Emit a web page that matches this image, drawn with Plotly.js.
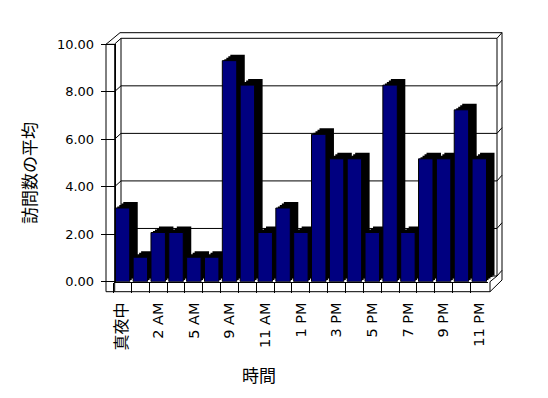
<!DOCTYPE html>
<html><head><meta charset="utf-8">
<script src="https://cdn.plot.ly/plotly-3.0.1.min.js"></script>
<style>html,body{margin:0;padding:0;background:#fff}</style>
</head><body><div id="chart" style="width:548px;height:398px"></div>
<script>
const categories = ['真夜中','1 AM','2 AM','4 AM','5 AM','8 AM','9 AM','10 AM','11 AM','正午','1 PM','2 PM','3 PM','4 PM','5 PM','6 PM','7 PM','8 PM','9 PM','10 PM','11 PM'];
const visits = [3.1,1.03,2.07,2.07,1.03,1.03,9.3,8.27,2.07,3.1,2.07,6.2,5.17,5.17,2.07,8.27,2.07,5.17,5.17,7.23,5.17];
const yTicks = [0,2,4,6,8,10];
const xTitle = '時間';
const yTitle = '訪問数の平均';

const W = 548, H = 398;
const px = x => x / W, py = y => 1 - y / H;
// front plane geometry (pixels)
const FX0 = 113.6, FX1 = 488.2, FY0 = 281.7, FY1 = 44.0;
const layers = [[8,6],[6,4.5],[4,3],[2,1.5],[0,0]];
const ids = ['', '2', '3', '4', '5'];
const FONT = 'DejaVu Sans, Noto Sans CJK JP, sans-serif';

const traces = [];
const layout = {
  width: W, height: H, margin: {l:0, r:0, t:0, b:0},
  paper_bgcolor: '#fff', plot_bgcolor: 'rgba(0,0,0,0)',
  showlegend: false, bargap: 0.19,
  font: {family: FONT, size: 13, color: '#000'},
  shapes: [], annotations: []
};

layers.forEach(([dx, dy], k) => {
  const id = ids[k];
  const front = (k === layers.length - 1);
  traces.push({
    type: 'bar', x: categories, y: visits,
    xaxis: 'x' + id, yaxis: 'y' + id,
    marker: {color: front ? '#000080' : '#000', line: {color: '#000', width: front ? 1 : 0}},
    hoverinfo: 'skip'
  });
  const xa = {
    type: 'category', range: [-0.5, categories.length - 0.5],
    domain: [px(FX0 + dx), px(FX1 + dx)], anchor: 'y' + id, fixedrange: true
  };
  const ya = {
    range: [0, 10], domain: [py(FY0 - dy), py(FY1 - dy)], anchor: 'x' + id, fixedrange: true
  };
  if (!front) {
    xa.visible = false; ya.visible = false;
  } else {
    Object.assign(xa, {
      showline: true, linecolor: '#000', linewidth: 1,
      ticks: 'outside', ticklen: 10, tickcolor: '#000', tickwidth: 1,
      tickson: 'boundaries', tickangle: -90, showgrid: false, zeroline: false,
      tickmode: 'array', tickvals: categories,
      ticktext: categories.map((c, i) => i % 2 ? '' :
        (/[^\x00-\x7f]/.test(c) ? '<span style="font-size:16px;font-family:Noto Sans CJK JP">' + c + '</span>' : c)),
      tickfont: {family: FONT, size: 14.5, color: '#000'}, ticklabelstandoff: 14
    });
    Object.assign(ya, {
      anchor: 'free', position: px(114.7),
      showline: true, linecolor: '#000', linewidth: 1,
      ticks: 'outside', ticklen: 14, tickcolor: '#000', tickwidth: 1,
      tickmode: 'array', tickvals: yTicks, ticktext: yTicks.map(v => v.toFixed(2)),
      showgrid: false, zeroline: false,
      tickfont: {family: FONT, size: 13, color: '#000'}, ticklabelstandoff: 4
    });
  }
  layout['xaxis' + id] = xa;
  layout['yaxis' + id] = ya;
});

// 3D frame: walls, floor and back-wall gridlines
const L = (x0, y0, x1, y1) => layout.shapes.push({
  type: 'line', xref: 'paper', yref: 'paper', layer: 'below',
  x0: px(x0), y0: py(y0), x1: px(x1), y1: py(y1), line: {color: '#000', width: 1}
});
const BX0 = 121, BX1 = 497, BDY = 5.7;
const yf = v => FY0 + (FY1 - FY0) * v / 10;
yTicks.forEach(v => {
  const a = yf(v), b = a - BDY;
  L(114.7, a, BX0, b);
  L(BX0, b, BX1, b);
  L(BX1, b, 502, b - BDY);
});
// back wall
L(BX0, yf(10) - BDY, BX0, yf(0) - BDY);
L(BX1, yf(10) - BDY, BX1, yf(0) - BDY);
L(120, 32.7, 502, 32.7);
L(502, 32.7, 502, 280);
// left wall
L(106, 44.3, 106, 291.7);
L(114.7, 44.3, 114.7, 291.7);
L(106, 44.3, 114.7, 44.3);
L(106, 44.3, 120, 32.7);
// floor front face
L(106, 291.7, 490, 291.7);
L(490, 281.7, 490, 291.7);
L(490, 291.7, 502, 280);
L(490, 281.7, BX1, yf(0) - BDY);

layout.annotations.push({
  text: yTitle, xref: 'paper', yref: 'paper', x: px(28), y: py(173),
  xanchor: 'center', yanchor: 'middle',
  textangle: -90, showarrow: false, font: {family: 'Noto Sans CJK JP', size: 17, color: '#000'}
});
layout.annotations.push({
  text: xTitle, xref: 'paper', yref: 'paper', x: px(259), y: py(374),
  xanchor: 'center', yanchor: 'middle',
  showarrow: false, font: {family: 'Noto Sans CJK JP', size: 17, color: '#000'}
});

Plotly.newPlot('chart', traces, layout, {staticPlot: true, displayModeBar: false});
</script></body></html>
